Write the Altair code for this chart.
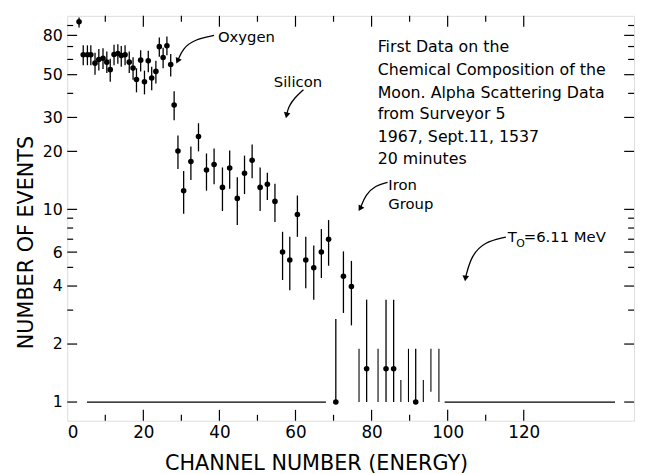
import altair as alt
import pandas as pd

# ---------------- data ----------------
channel = [3.1, 4.2, 5.3, 6.2, 7.3, 8.3, 9.4, 10.4, 11.3, 12.3, 13.3, 14.2, 15.2, 16.3,
           17.3, 18.2, 19.3, 20.3, 21.3, 22.2, 23.3, 24.2, 25.2, 26.2, 27.2, 28.1, 29.1,
           30.6, 32.5, 34.5, 36.6, 38.6, 40.8, 42.7, 44.7, 46.6, 48.6, 50.7, 52.6, 54.6,
           56.6, 58.5, 60.5, 62.7, 64.8, 66.8, 68.7, 70.6, 72.6, 74.7, 78.7, 83.8, 85.8, 91.6]
events = [94, 63.4, 63.4, 63.4, 57.4, 60.0, 60.9, 58.1, 53.1, 63.6, 64.4, 62.8, 63.4, 58.1,
          54.1, 47.2, 59.5, 45.9, 59.0, 48.1, 52.0, 69.9, 61.4, 70.7, 56.5, 34.8, 20.1,
          12.5, 17.7, 23.9, 16.0, 17.1, 13.0, 16.4, 11.4, 15.4, 18.0, 13.0, 13.5, 11.0,
          6.0, 5.46, 9.4, 5.46, 4.98, 6.0, 7.0, 1.0, 4.5, 3.98, 1.49, 1.49, 1.49, 1.0]
err_lo = [88, 56, 56, 56, 50, 52.5, 53.5, 51, 46, 56, 57, 55, 56, 51,
          47, 40.5, 52, 39.5, 51.5, 41.5, 45, 62, 54, 63, 49, 29, 16.2,
          9.5, 14.2, 20, 12.5, 13.5, 9.8, 12.8, 8.3, 12.0, 14.5, 9.8, 11.2, 8.6,
          4.3, 3.8, 7.2, 3.9, 3.4, 4.4, 5.1, 1.0, 2.9, 2.5, 1.0, 1.0, 1.0, 1.0]
err_hi = [99, 71, 71, 71, 65, 68, 68.5, 66, 60.5, 71.5, 72, 70.5, 71, 66,
          61.5, 54, 67, 52.5, 66.5, 55, 59, 78, 69, 79, 64, 41, 24.2,
          15.8, 21.2, 28, 19.5, 20.7, 16.5, 20.2, 14.7, 19.0, 21.7, 16.5, 15.5, 13.6,
          7.65, 7.2, 11.8, 7.2, 6.5, 7.9, 8.8, 2.7, 6.05, 5.4, 3.4, 3.4, 3.4, 1.89]

# channels with no event: only an upper error bar
empty_channel = [76.7, 81.7, 87.7, 89.7, 93.6, 95.6, 97.7]
empty_lo = [1.0, 1.0, 1.0, 1.0, 1.0, 1.13, 1.0]
empty_hi = [1.89, 1.89, 1.3, 1.89, 1.3, 1.89, 1.89]

# level-1 base line
base_start = [5.2, 99.2]
base_end = [68.0, 144.0]
base_level = [1, 1]

# axes
x_label_values = [0, 20, 40, 60, 80, 100, 120]
x_major_ticks = [20, 40, 60, 80, 100, 120]
x_minor_ticks = [10, 30, 50, 70, 90, 110]
y_label_values = [1, 2, 4, 6, 10, 20, 30, 50, 80]
y_minor_ticks = [3, 5, 7, 8, 9, 40, 60, 70, 90]

# info block
info_lines = ["First Data on the", "Chemical Composition of the",
              "Moon. Alpha Scattering Data", "from Surveyor 5",
              "1967, Sept.11, 1537", "20 minutes"]
info_x = [81.6] * 6
info_y = [69.3, 52.9, 40.3, 31.1, 23.7, 18.3]

# annotation labels
note_text = ["Oxygen", "Silicon", "Iron", "Group", "T", "=6.11 MeV"]
note_x = [39.6, 54.3, 84.4, 84.4, 115.8, 120.0]
note_y = [78.0, 45.9, 13.3, 10.6, 7.18, 7.18]
sub_text = ["O"]
sub_x = [118.0]
sub_y = [6.6]

# annotation arrows (curves)
arrow_id = ["O"] * 4 + ["Si"] * 4 + ["Fe"] * 4 + ["T"] * 4
arrow_idx = [0, 1, 2, 3] * 4
arrow_x = [38.6, 33.5, 30.4, 29.1,
           62.1, 59.8, 58.2, 57.7,
           84.2, 81.0, 78.4, 77.1,
           115.3, 109.6, 106.2, 104.7]
arrow_y = [79.9, 76.2, 68.5, 59.5,
           41.8, 38.0, 34.2, 31.1,
           13.8, 13.3, 11.9, 10.2,
           7.18, 6.77, 5.74, 4.43]
head_x = [29.1, 57.7, 77.1, 104.7]
head_y = [59.5, 31.1, 10.2, 4.43]
head_angle = [205, 192, 210, 188]

# ---------------- chart ----------------
W, H = 574, 410
FONT = "DejaVu Sans"
xs = alt.Scale(domain=[0, 149], nice=False, zero=False)
ys = alt.Scale(type="log", domain=[0.8, 101], nice=False)

pts = pd.DataFrame({"ch": channel, "n": events, "lo": err_lo, "hi": err_hi})
empt = pd.DataFrame({"ch": empty_channel, "lo": empty_lo, "hi": empty_hi})
base = pd.DataFrame({"a": base_start, "b": base_end, "lvl": base_level})
info = pd.DataFrame({"t": info_lines, "x": info_x, "y": info_y})
notes = pd.DataFrame({"t": note_text, "x": note_x, "y": note_y})
subs = pd.DataFrame({"t": sub_text, "x": sub_x, "y": sub_y})
arrows = pd.DataFrame({"id": arrow_id, "i": arrow_idx, "x": arrow_x, "y": arrow_y})
heads = pd.DataFrame({"x": head_x, "y": head_y, "ang": head_angle})

x_axis = alt.Axis(values=x_label_values, ticks=False, tickSize=0, domain=False, grid=False,
                  labelFontSize=17, labelFont=FONT, labelColor="black", labelPadding=4,
                  title="CHANNEL NUMBER (ENERGY)", titleFont=FONT, titleFontSize=21,
                  titleFontWeight="normal", titleColor="black", titleX=252, titleY=49,
                  titleBaseline="alphabetic", titleAlign="center")
y_axis = alt.Axis(values=y_label_values, format="d", ticks=False, tickSize=0, domain=False,
                  grid=False, labelFontSize=16, labelFont=FONT, labelColor="black",
                  labelPadding=5, labelOverlap=False,
                  title="NUMBER OF EVENTS", titleFont=FONT, titleFontSize=21,
                  titleFontWeight="normal", titleColor="black", titleAngle=270,
                  titleX=-35, titleY=229, titleBaseline="alphabetic", titleAlign="center")


def X(f):
    return alt.X(f, scale=xs, title="CHANNEL NUMBER (ENERGY)")


def Y(f):
    return alt.Y(f, scale=ys, title="NUMBER OF EVENTS")


points = alt.Chart(pts).mark_circle(size=32, color="black", opacity=1).encode(
    x=alt.X("ch:Q", scale=xs, axis=x_axis),
    y=alt.Y("n:Q", scale=ys, axis=y_axis))
bars = alt.Chart(pts).mark_rule(color="black", strokeWidth=1.3).encode(
    x=X("ch:Q"), y=Y("lo:Q"), y2="hi:Q")
ebars = alt.Chart(empt).mark_rule(color="black", strokeWidth=1.1).encode(
    x=X("ch:Q"), y=Y("lo:Q"), y2="hi:Q")
baseline = alt.Chart(base).mark_rule(color="black", strokeWidth=1.2).encode(
    x=X("a:Q"), x2="b:Q", y=Y("lvl:Q"))


def xticks(vals, y0, y1):
    return alt.Chart(pd.DataFrame({"v": vals})).mark_rule(color="black", strokeWidth=1.2).encode(
        x=X("v:Q"), y=alt.value(y0), y2=alt.value(y1))


def yticks(vals, x0, x1):
    return alt.Chart(pd.DataFrame({"v": vals})).mark_rule(color="black", strokeWidth=1.2).encode(
        y=Y("v:Q"), x=alt.value(x0), x2=alt.value(x1))


tick_layers = [
    xticks(x_major_ticks, H, H - 11), xticks(x_minor_ticks, H, H - 6),
    xticks(x_major_ticks, 0, 11), xticks(x_minor_ticks, 0, 6),
    yticks(y_label_values, 0, 10), yticks(y_minor_ticks, 0, 6),
    yticks(y_label_values, W, W - 10), yticks(y_minor_ticks, W, W - 6),
]

info_txt = alt.Chart(info).mark_text(align="left", baseline="middle", font=FONT,
                                     fontSize=16, color="black").encode(
    x=X("x:Q"), y=Y("y:Q"), text="t:N")
note_txt = alt.Chart(notes).mark_text(align="left", baseline="middle", font=FONT,
                                      fontSize=15, color="black").encode(
    x=X("x:Q"), y=Y("y:Q"), text="t:N")
sub_txt = alt.Chart(subs).mark_text(align="left", baseline="middle", font=FONT,
                                    fontSize=11, color="black").encode(
    x=X("x:Q"), y=Y("y:Q"), text="t:N")
curves = alt.Chart(arrows).mark_line(interpolate="basis", color="black", strokeWidth=1.3).encode(
    x=X("x:Q"), y=Y("y:Q"), detail="id:N", order="i:Q")
tips = alt.Chart(heads).mark_point(shape="triangle", filled=True, size=45, color="black",
                                   opacity=1).encode(
    x=X("x:Q"), y=Y("y:Q"), angle=alt.Angle("ang:Q", scale=None))

chart = alt.layer(points, bars, ebars, baseline, *tick_layers, info_txt, note_txt, sub_txt,
                  curves, tips).properties(
    width=W, height=H,
    autosize=alt.AutoSizeParams(type="none"),
    padding={"left": 60, "top": 5, "right": 5, "bottom": 51},
).configure_view(stroke="black", strokeWidth=1.5).configure(background="white")

chart.save("out.html", embed_options={"renderer": "svg", "actions": False})
